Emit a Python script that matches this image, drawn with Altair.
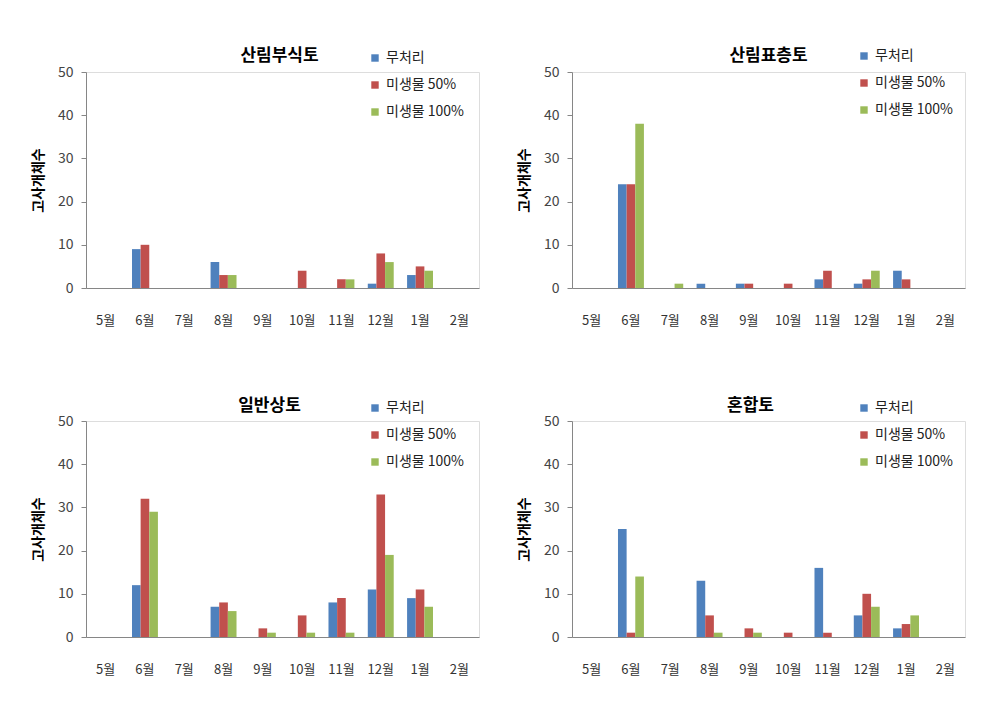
import altair as alt
import pandas as pd

months = ["5월", "6월", "7월", "8월", "9월", "10월", "11월", "12월", "1월", "2월"]
series = ["무처리", "미생물 50%", "미생물 100%"]
colors = ["#4F81BD", "#C0504D", "#9BBB59"]

# 산림부식토
p1_title = "산림부식토"
p1_ctrl = [0, 9, 0, 6, 0, 0, 0, 1, 3, 0]
p1_m50 = [0, 10, 0, 3, 0, 4, 2, 8, 5, 0]
p1_m100 = [0, 0, 0, 3, 0, 0, 2, 6, 4, 0]

# 산림표층토
p2_title = "산림표층토"
p2_ctrl = [0, 24, 0, 1, 1, 0, 2, 1, 4, 0]
p2_m50 = [0, 24, 0, 0, 1, 1, 4, 2, 2, 0]
p2_m100 = [0, 38, 1, 0, 0, 0, 0, 4, 0, 0]

# 일반상토
p3_title = "일반상토"
p3_ctrl = [0, 12, 0, 7, 0, 0, 8, 11, 9, 0]
p3_m50 = [0, 32, 0, 8, 2, 5, 9, 33, 11, 0]
p3_m100 = [0, 29, 0, 6, 1, 1, 1, 19, 7, 0]

# 혼합토
p4_title = "혼합토"
p4_ctrl = [0, 25, 0, 13, 0, 0, 16, 5, 2, 0]
p4_m50 = [0, 1, 0, 5, 2, 1, 1, 10, 3, 0]
p4_m100 = [0, 14, 0, 1, 1, 0, 0, 7, 5, 0]

y_title = "고사개체수"
FONT = "Noto Sans CJK KR"


def make_df(a, b, c):
    rows = []
    for s, vals in zip(series, [a, b, c]):
        for m, v in zip(months, vals):
            rows.append({"month": m, "series": s, "value": v})
    return pd.DataFrame(rows)


def panel(title, a, b, c, lx, ly, tdx, tdy):
    df = make_df(a, b, c)
    return alt.Chart(df).mark_bar().encode(
        x=alt.X("month:N", sort=months,
                scale=alt.Scale(paddingInner=0.34, paddingOuter=0.17),
                axis=alt.Axis(title=None, labelAngle=0, ticks=False, labelPadding=26,
                              domainColor="#868686", labelFontSize=13, labelColor="#333333",
                              labelFont=FONT)),
        xOffset=alt.XOffset("series:N", sort=series, scale=alt.Scale(paddingInner=0, paddingOuter=0)),
        y=alt.Y("value:Q", scale=alt.Scale(domain=[0, 50], nice=False),
                axis=alt.Axis(values=[0, 10, 20, 30, 40, 50], grid=False, title=y_title,
                              titleFontWeight="bold", titleFontSize=14, titleColor="#000000",
                              titleFont=FONT, titlePadding=12, tickSize=5, tickColor="#868686",
                              domainColor="#868686", labelPadding=8, labelFontSize=14,
                              labelColor="#444444", labelFont=FONT)),
        color=alt.Color("series:N", sort=series,
                        scale=alt.Scale(domain=series, range=colors),
                        legend=alt.Legend(title=None, orient="none", legendX=lx, legendY=ly,
                                          symbolType="square", symbolSize=55, symbolStrokeWidth=0,
                                          labelFontSize=14, labelFont=FONT, labelColor="#222222",
                                          rowPadding=13, padding=0, labelOffset=4)),
    ).properties(
        width=393, height=216,
        title=alt.TitleParams(title, fontSize=17, fontWeight="bold", font=FONT, dx=tdx, dy=tdy,
                              offset=12, color="#000000"),
    )


c1 = panel(p1_title, p1_ctrl, p1_m50, p1_m100, 282, -21, -3, 26)
c2 = panel(p2_title, p2_ctrl, p2_m50, p2_m100, 285, -23, 0, 28)
c3 = panel(p3_title, p3_ctrl, p3_m50, p3_m100, 282, -20, -13, 26)
c4 = panel(p4_title, p4_ctrl, p4_m50, p4_m100, 285, -20, -18, 26)

row1 = alt.hconcat(c1, c2, spacing=36).resolve_scale(color="independent").resolve_legend(color="independent")
row2 = alt.hconcat(c3, c4, spacing=36).resolve_scale(color="independent").resolve_legend(color="independent")

chart = alt.vconcat(row1, row2, spacing=68).resolve_scale(color="independent").resolve_legend(
    color="independent"
).properties(
    padding={"left": 30, "top": 46, "right": 5, "bottom": 5}
).configure_view(stroke=None).configure(background="white")

chart.save("out.html", embed_options={"renderer": "svg", "actions": False})
